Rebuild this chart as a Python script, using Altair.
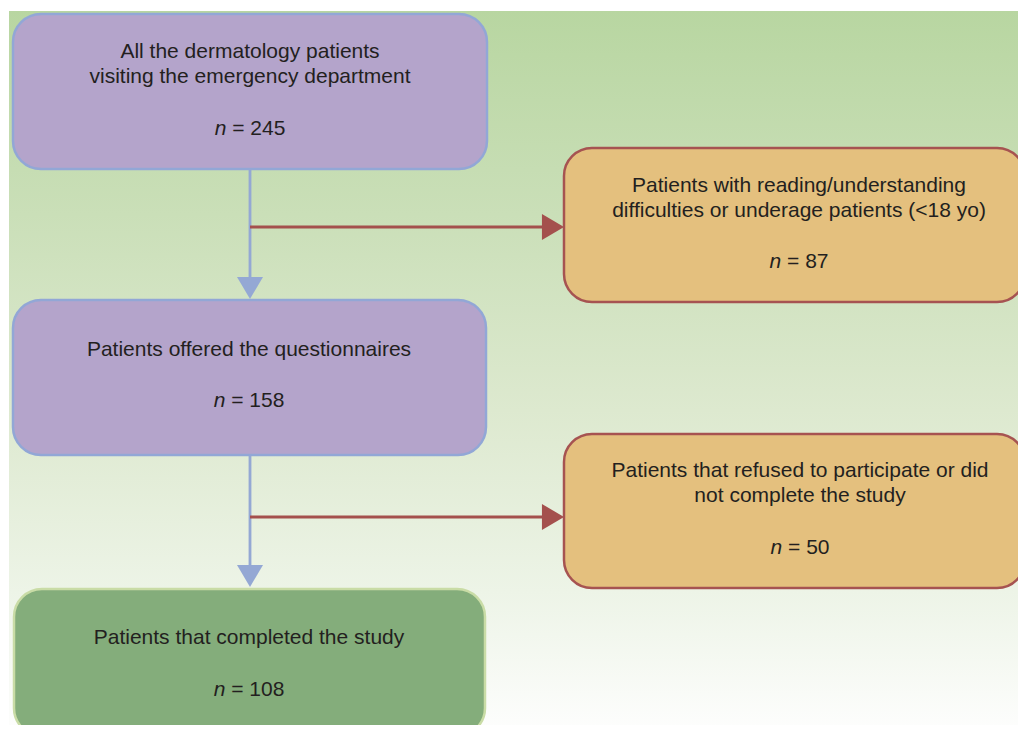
import altair as alt
import pandas as pd

# ---- content -------------------------------------------------------------
box_lines = [
    ["All the dermatology patients", "visiting the emergency department"],
    ["Patients with reading/understanding", "difficulties or underage patients (<18 yo)"],
    ["Patients offered the questionnaires"],
    ["Patients that refused to participate or did", "not complete the study"],
    ["Patients that completed the study"],
]
box_n = [245, 87, 158, 50, 108]
box_kind = ["main", "excluded", "main", "excluded", "final"]

# ---- layout (page pixels) ------------------------------------------------
box_x0 = [13, 564, 13, 564, 14]
box_x1 = [487, 1025, 486, 1025, 485]
box_y0 = [14, 148, 300, 434, 589]
box_y1 = [169, 302, 455, 588, 736]
text_cx = [250, 799, 249, 800, 249]
line1_base = [58, 192, 356, 477, 644]
n_base = [135, 268, 407, 554, 696]
LINE_H = 25
FS = 21

kinds = ["main", "excluded", "final"]
fills = ["#b4a4cb", "#e4c07e", "#84ad7b"]
strokes = ["#92a7d6", "#a65351", "#c9dca6"]

# connectors
down_x = [250, 250]
down_y0 = [169, 455]
down_y1 = [279, 566]
down_tip = [299, 587]
side_y = [227, 517]
side_x0 = [250, 250]
side_x1 = [543, 543]
side_tip = [564, 564]

W, H = 1010, 717
xs = alt.Scale(domain=[8, 8 + W], nice=False, zero=False)
ys = alt.Scale(domain=[8, 8 + H], nice=False, zero=False, reverse=True)

def X(f="x"):
    return alt.X(f"{f}:Q", scale=xs, axis=None)

def Y(f="y"):
    return alt.Y(f"{f}:Q", scale=ys, axis=None)

# background gradient
bg_df = pd.DataFrame({"x": [9], "x2": [1026], "y": [11], "y2": [737]})
grad = alt.Gradient(
    gradient="linear", x1=0, x2=0, y1=0, y2=1,
    stops=[
        alt.GradientStop(color="#b8d6a1", offset=0.0),
        alt.GradientStop(color="#cadfb8", offset=0.28),
        alt.GradientStop(color="#dde9cf", offset=0.55),
        alt.GradientStop(color="#edf4e7", offset=0.8),
        alt.GradientStop(color="#fefefe", offset=1.0),
    ],
)
bg = alt.Chart(bg_df).mark_rect(fill=grad, strokeWidth=0).encode(
    x=X(), x2="x2:Q", y=Y(), y2="y2:Q"
)

boxes_df = pd.DataFrame({
    "x": box_x0, "x2": box_x1, "y": box_y0, "y2": box_y1, "kind": box_kind,
})
boxes = alt.Chart(boxes_df).mark_rect(cornerRadius=28, strokeWidth=2.5).encode(
    x=X(), x2="x2:Q", y=Y(), y2="y2:Q",
    fill=alt.Fill("kind:N", scale=alt.Scale(domain=kinds, range=fills), legend=None),
    stroke=alt.Stroke("kind:N", scale=alt.Scale(domain=kinds, range=strokes), legend=None),
)

# connector lines
vlines_df = pd.DataFrame({"x": down_x, "y": down_y0, "y2": down_y1})
vlines = alt.Chart(vlines_df).mark_rule(color="#94a8d4", strokeWidth=2.8).encode(
    x=X(), y=Y(), y2="y2:Q"
)
hlines_df = pd.DataFrame({"x": side_x0, "x2": side_x1, "y": side_y})
hlines = alt.Chart(hlines_df).mark_rule(color="#a4504d", strokeWidth=2.8).encode(
    x=X(), x2="x2:Q", y=Y()
)

# arrowheads
down_df = pd.DataFrame({"x": down_x, "y": [t - 11 for t in down_tip]})
down_heads = alt.Chart(down_df).mark_point(
    shape="M-1,-0.85L1,-0.85L0,0.85Z", size=676, filled=True,
    fill="#94a8d4", opacity=1, strokeWidth=0,
).encode(x=X(), y=Y())
side_df = pd.DataFrame({"x": [t - 11 for t in side_tip], "y": side_y})
side_heads = alt.Chart(side_df).mark_point(
    shape="M-0.85,-1L0.85,0L-0.85,1Z", size=676, filled=True,
    fill="#a4504d", opacity=1, strokeWidth=0,
).encode(x=X(), y=Y())

# text lines
rows = []
for i, lines in enumerate(box_lines):
    for j, t in enumerate(lines):
        rows.append({"x": text_cx[i], "y": line1_base[i] + j * LINE_H, "t": t})
text_df = pd.DataFrame(rows)
texts = alt.Chart(text_df).mark_text(
    font="Liberation Sans", fontSize=FS, color="#231f20",
    align="center", baseline="alphabetic",
).encode(x=X(), y=Y(), text="t:N")

# "n = value" lines (italic n)
em = FS
w_n, w_sp, w_eq, w_dig = 0.556 * em, 0.278 * em, 0.584 * em, 0.556 * em
n_rows, v_rows = [], []
for i, v in enumerate(box_n):
    s = str(v)
    total = w_n + w_sp + w_eq + w_sp + len(s) * w_dig
    x0 = text_cx[i] - total / 2
    n_rows.append({"x": x0, "y": n_base[i], "t": "n"})
    v_rows.append({"x": x0 + w_n + w_sp, "y": n_base[i], "t": "= " + s})
n_txt = alt.Chart(pd.DataFrame(n_rows)).mark_text(
    font="Liberation Sans", fontSize=FS, fontStyle="italic", color="#231f20",
    align="left", baseline="alphabetic",
).encode(x=X(), y=Y(), text="t:N")
v_txt = alt.Chart(pd.DataFrame(v_rows)).mark_text(
    font="Liberation Sans", fontSize=FS, color="#231f20",
    align="left", baseline="alphabetic",
).encode(x=X(), y=Y(), text="t:N")

chart = alt.layer(
    bg, vlines, hlines, down_heads, side_heads, boxes, texts, n_txt, v_txt
).properties(
    width=W, height=H, autosize="none", padding=0
).configure_view(stroke=None)

chart.save("out.html", embed_options={"renderer": "svg", "actions": False})
